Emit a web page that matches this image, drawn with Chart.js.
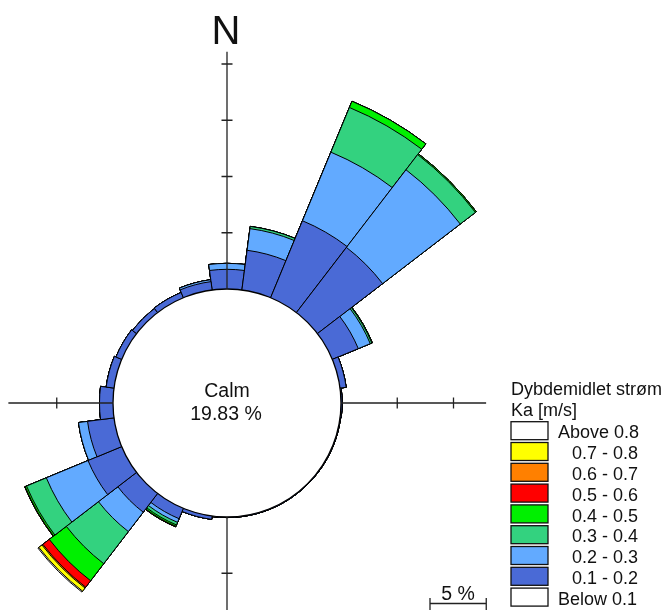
<!DOCTYPE html>
<html>
<head>
<meta charset="utf-8">
<script src="https://cdn.jsdelivr.net/npm/chart.js@4/dist/chart.umd.min.js"></script>
<style>
  body { margin: 0; background: #fff; }
</style>
</head>
<body>
<canvas id="myChart" width="664" height="610"></canvas>
<script>
// direction sectors, 15 degrees each, clockwise from north
var directions = ['0', '15', '30', '45', '60', '75', '90', '105', '120', '135', '150', '165',
  '180', '195', '210', '225', '240', '255', '270', '285', '300', '315', '330', '345'];

var calmPct = 19.83;

// frequency in % per speed class (m/s), one value per sector
var s01_02 = [1.75, 3.56, 7.4, 7.3, 2.5, 0.55, 0.1, 0.05, 0.05, 0.05, 0.05, 0.05, 0.05, 0.3, 1.0, 2.1, 3.24, 2.37, 1.2, 0.7, 0.55, 0.45, 0.5, 0.75];
var s02_03 = [0.53, 1.94, 6.6, 8.7, 1.15, 0, 0, 0, 0, 0, 0, 0, 0, 0, 0.35, 2.17, 4.01, 0.81, 0, 0, 0, 0, 0, 0.17];
var s03_04 = [0, 0.2, 4.3, 1.7, 0.15, 0, 0, 0, 0, 0, 0, 0, 0, 0, 0.25, 3.6, 1.9, 0, 0, 0, 0, 0, 0, 0];
var s04_05 = [0, 0, 0.6, 0.1, 0.05, 0, 0, 0, 0, 0, 0, 0, 0, 0, 0.13, 1.91, 0.14, 0, 0, 0, 0, 0, 0, 0];
var s05_06 = [0, 0, 0, 0, 0, 0, 0, 0, 0, 0, 0, 0, 0, 0, 0.05, 0.72, 0.04, 0, 0, 0, 0, 0, 0, 0];
var s06_07 = [0, 0, 0, 0, 0, 0, 0, 0, 0, 0, 0, 0, 0, 0, 0, 0.1, 0, 0, 0, 0, 0, 0, 0, 0];
var s07_08 = [0, 0, 0, 0, 0, 0, 0, 0, 0, 0, 0, 0, 0, 0, 0, 0.35, 0, 0, 0, 0, 0, 0, 0, 0];
var sAbove08 = [0, 0, 0, 0, 0, 0, 0, 0, 0, 0, 0, 0, 0, 0, 0, 0.1, 0, 0, 0, 0, 0, 0, 0, 0];

var classes = [s01_02, s02_03, s03_04, s04_05, s05_06, s06_07, s07_08, sAbove08];
var classNames = ['0.1 - 0.2', '0.2 - 0.3', '0.3 - 0.4', '0.4 - 0.5', '0.5 - 0.6', '0.6 - 0.7', '0.7 - 0.8', 'Above 0.8'];
var classColors = ['#4a6ad6', '#62aaff', '#33d27f', '#00f000', '#ff0000', '#ff8000', '#ffff00', '#ffffff'];

// legend rows, top to bottom
var legendNames = ['Above 0.8', '0.7 - 0.8', '0.6 - 0.7', '0.5 - 0.6', '0.4 - 0.5', '0.3 - 0.4', '0.2 - 0.3', '0.1 - 0.2', 'Below 0.1'];
var legendColors = ['#ffffff', '#ffff00', '#ff8000', '#ff0000', '#00f000', '#33d27f', '#62aaff', '#4a6ad6', '#ffffff'];

// axis length (in %) for N, E, S, W
var axisLen = [21.1, 12.9, 9.5, 9.3];
var tickStep = 5;

var FONT = '"Liberation Sans", Arial, sans-serif';

// stack the classes: each dataset holds the running total,
// drawn biggest first so the smaller ones sit on top
var datasets = [];
var running = directions.map(function () { return 0; });
for (var k = 0; k < classes.length; k++) {
  running = running.map(function (v, i) { return v + classes[k][i]; });
  datasets.push({
    label: classNames[k],
    data: running.slice(),
    backgroundColor: classColors[k],
    borderColor: '#000',
    borderWidth: 1,
    clip: false
  });
}

var pxPerPct = 11.25;
var calmRadius = 114;
var area = 200;
var rMin = -calmRadius / pxPerPct;
var rMax = rMin + area / pxPerPct;

var roseExtras = {
  id: 'roseExtras',
  afterDatasetsDraw: function (chart) {
    var ctx = chart.ctx;
    var sc = chart.scales.r;
    var cx = sc.xCenter, cy = sc.yCenter;
    var r0 = sc.getDistanceFromCenterForValue(0);
    ctx.save();

    // calm circle
    ctx.beginPath();
    ctx.arc(cx, cy, r0, 0, Math.PI * 2);
    ctx.fillStyle = '#fff';
    ctx.fill();
    ctx.lineWidth = 1.3;
    ctx.strokeStyle = '#000';
    ctx.stroke();

    // axes with ticks every 5 %
    var dirs = [[0, -1], [1, 0], [0, 1], [-1, 0]];
    ctx.strokeStyle = '#222';
    ctx.lineWidth = 1.3;
    dirs.forEach(function (d, i) {
      var rEnd = sc.getDistanceFromCenterForValue(axisLen[i]);
      ctx.beginPath();
      ctx.moveTo(cx + d[0] * r0, cy + d[1] * r0);
      ctx.lineTo(cx + d[0] * rEnd, cy + d[1] * rEnd);
      for (var t = tickStep; t <= axisLen[i]; t += tickStep) {
        var rt = sc.getDistanceFromCenterForValue(t);
        var px = cx + d[0] * rt, py = cy + d[1] * rt;
        ctx.moveTo(px - d[1] * 5.5, py - d[0] * 5.5);
        ctx.lineTo(px + d[1] * 5.5, py + d[0] * 5.5);
      }
      ctx.stroke();
    });

    ctx.fillStyle = '#111';
    ctx.textAlign = 'center';
    ctx.textBaseline = 'alphabetic';
    ctx.font = '40px ' + FONT;
    ctx.fillText('N', cx - 1, 44);

    ctx.font = '19.5px ' + FONT;
    ctx.fillText('Calm', cx, cy - 6);
    ctx.fillText(calmPct.toFixed(2) + ' %', cx - 1, cy + 17);

    // 5 % scale bar
    var len = sc.getDistanceFromCenterForValue(5) - sc.getDistanceFromCenterForValue(0);
    var bx = 430, by = 603.5;
    ctx.fillText('5 %', bx + len / 2, 600);
    ctx.beginPath();
    ctx.moveTo(bx, by); ctx.lineTo(bx + len, by);
    ctx.moveTo(bx, 598); ctx.lineTo(bx, 610);
    ctx.moveTo(bx + len, 598); ctx.lineTo(bx + len, 610);
    ctx.stroke();

    // legend
    ctx.textAlign = 'left';
    ctx.font = '18px ' + FONT;
    ctx.fillText('Dybdemidlet strøm', 511, 395);
    ctx.fillText('Ka [m/s]', 511, 415.5);
    for (var j = 0; j < legendNames.length; j++) {
      var top = 421.7 + j * 20.8;
      ctx.fillStyle = legendColors[j];
      ctx.fillRect(511, top, 37, 18);
      ctx.lineWidth = 1.3;
      ctx.strokeStyle = '#111';
      ctx.strokeRect(511, top, 37, 18);
      ctx.fillStyle = '#111';
      var lx = (j === 0 || j === legendNames.length - 1) ? 558 : 572;
      ctx.fillText(legendNames[j], lx, top + 16.6);
    }
    ctx.restore();
  }
};

new Chart('myChart', {
  type: 'polarArea',
  data: {
    labels: directions,
    datasets: datasets
  },
  options: {
    responsive: false,
    animation: false,
    devicePixelRatio: 1,
    layout: { padding: { left: 27, right: 237, top: 203, bottom: 7 } },
    plugins: {
      legend: { display: false },
      tooltip: { enabled: false }
    },
    scales: {
      r: {
        min: rMin,
        max: rMax,
        startAngle: -7.5,
        grid: { display: false },
        angleLines: { display: false },
        ticks: { display: false },
        pointLabels: { display: false }
      }
    }
  },
  plugins: [roseExtras]
});
</script>
</body>
</html>
